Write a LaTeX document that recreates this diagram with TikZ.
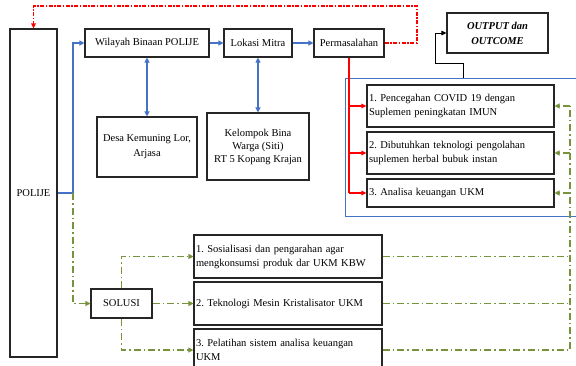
\documentclass[tikz,border=0pt]{standalone}
\usepackage{fontspec}
\setmainfont{Liberation Serif}
\usetikzlibrary{arrows.meta}
\definecolor{myblue}{HTML}{4472C4}
\definecolor{mygreen}{HTML}{77933C}
\definecolor{myred}{HTML}{FF0000}
\frenchspacing
\begin{document}
\begin{tikzpicture}[x=1pt,y=-1pt,
  box/.style={draw=black!85,line width=1.1pt,rectangle,inner sep=1pt,font=\fontsize{10.5}{14}\selectfont,align=center},
  lbox/.style={box,align=left,inner xsep=2pt},
  bl/.style={draw=myblue,line width=1.1pt},
  blarrow/.style={bl,-{Triangle[length=5pt,width=5pt]}},
  bldouble/.style={bl,{Triangle[length=5pt,width=5pt]}-{Triangle[length=5pt,width=5pt]}},
  rd/.style={draw=myred,line width=1.2pt},
  rdarrow/.style={rd,-{Triangle[length=5pt,width=4.5pt]}},
  rddash/.style={rd,line width=1.1pt,dash pattern=on 4pt off 1.5pt on 1.5pt off 1.5pt},
  gr/.style={draw=mygreen,line width=1.1pt,dash pattern=on 7pt off 3pt on 1.5pt off 3pt},
  grarrow/.style={gr,-{Triangle[length=5pt,width=5pt]}},
  blk/.style={draw=black,line width=0.9pt},
]
\useasboundingbox (0,0) rectangle (576,365);
\clip (0,0) rectangle (576,365);
\fill[white] (0,0) rectangle (576,365);

% nodes
\node[box,minimum width=47pt,minimum height=328pt] (polije) at (33.5,193) {POLIJE};
\node[box,minimum width=124pt,minimum height=28pt] (wil) at (147,43) {Wilayah Binaan POLIJE};
\node[box,minimum width=68pt,minimum height=28pt] (lok) at (258,43) {Lokasi Mitra};
\node[box,minimum width=70pt,minimum height=28pt] (perm) at (349,43) {Permasalahan};
\node[box,minimum width=101pt,minimum height=40pt,font=\fontsize{10.5}{15}\selectfont\bfseries\itshape] (out) at (497.5,33) {OUTPUT dan\\OUTCOME};
\node[box,minimum width=100pt,minimum height=60pt,font=\fontsize{10.5}{15}\selectfont] (desa) at (147,147) {Desa Kemuning Lor,\\Arjasa};
\node[box,minimum width=102pt,minimum height=67pt,font=\fontsize{10.5}{13}\selectfont] (kel) at (258,146.5) {Kelompok Bina\\Warga (Siti)\\RT 5 Kopang Krajan};

\draw[myblue,line width=1pt] (345,78) rectangle (600,216);
\coordinate (brtop) at (463,78);

\node[lbox,text width=183pt,minimum height=42pt] (p1) at (460.5,106) {1. Pencegahan COVID 19 dengan\\Suplemen peningkatan IMUN};
\node[lbox,text width=183pt,minimum height=42pt] (p2) at (460.5,153) {2. Dibutuhkan teknologi pengolahan\\suplemen herbal bubuk instan};
\node[lbox,text width=183pt,minimum height=28pt] (p3) at (460.5,193) {3. Analisa keuangan UKM};

\node[box,minimum width=61pt,minimum height=29pt] (sol) at (121.5,303.5) {SOLUSI};
\node[lbox,text width=184pt,minimum height=43pt] (s1) at (288,256.5) {1. Sosialisasi dan pengarahan agar\\mengkonsumsi produk dar UKM KBW};
\node[lbox,text width=184pt,minimum height=43pt] (s2) at (288,303.5) {2. Teknologi Mesin Kristalisator UKM};
\node[lbox,text width=184pt,minimum height=42pt] (s3) at (288,350) {3. Pelatihan sistem analisa keuangan\\UKM};

% blue connectors
\coordinate (j) at (73,193);
\draw[bl] (polije.east) -- (j);
\draw[blarrow] (j) |- (wil.west);
\draw[blarrow] (wil) -- (lok);
\draw[blarrow] (lok) -- (perm);
\draw[bldouble] (wil.south) -- (desa.north);
\draw[bldouble] (lok.south) -- (kel.north);

% red
\coordinate (rtop) at (417,6);
\draw[rddash,-{Triangle[length=5pt,width=4.5pt]}] (perm.east) -| (rtop) -| (polije.north);
\draw[rd] (perm.south) -- (perm.south |- p3.west);
\draw[rdarrow] (perm.south |- p1.west) -- (p1.west);
\draw[rdarrow] (perm.south |- p2.west) -- (p2.west);
\draw[rdarrow] (perm.south |- p3.west) -- (p3.west);

% black to output
\coordinate (bk) at (435,63);
\draw[blk,-{Triangle[length=5pt,width=4.5pt]}] (brtop) |- (bk) |- (out.west);

% green
\draw[grarrow] (j) |- (sol.west);
\draw[grarrow] (sol.north) |- (s1.west);
\draw[grarrow] (sol.east) -- (s2.west);
\draw[grarrow] (sol.south) |- (s3.west);
\coordinate (gx) at (570,0);
\draw[gr] (s1.east) -- (s1.east -| gx);
\draw[gr] (s2.east) -- (s2.east -| gx);
\draw[gr] (s3.east) -- (s3.east -| gx) -- (p1.east -| gx);
\draw[grarrow] (p1.east -| gx) -- (p1.east);
\draw[grarrow] (p2.east -| gx) -- (p2.east);
\draw[grarrow] (p3.east -| gx) -- (p3.east);
\end{tikzpicture}
\end{document}
